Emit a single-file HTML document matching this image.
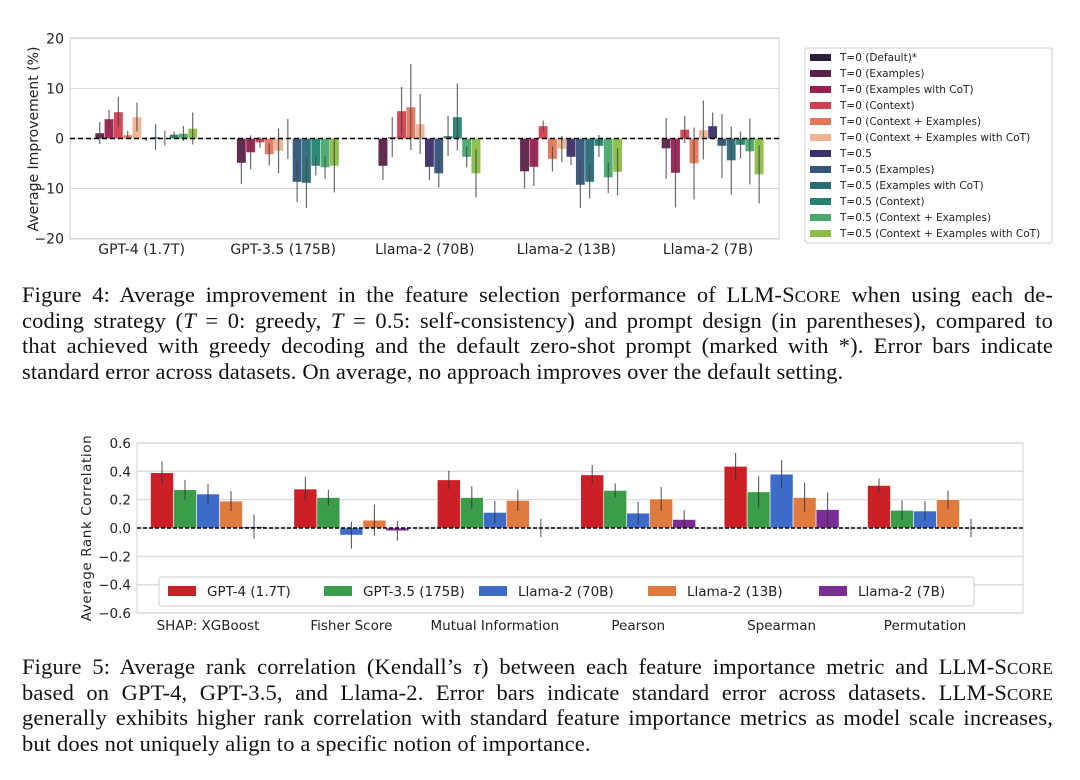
<!DOCTYPE html>
<html><head><meta charset="utf-8"><style>
body{margin:0;background:#fff;width:1080px;height:780px;overflow:hidden;position:relative;font-family:"DejaVu Sans","Liberation Sans",sans-serif}
svg{position:absolute;left:0;top:0}
.cap{position:absolute;left:22px;width:1031px;font-family:"Liberation Serif",serif;font-size:22.5px;letter-spacing:0.15px;color:#111}
.cap div{height:25.5px;line-height:25.5px;white-space:nowrap;text-align:justify;text-align-last:justify}
.cap div.last{text-align-last:left}
</style></head><body>
<svg id="chart" width="1080" height="780"></svg>
<div class="cap" style="top:282px">
<div>Figure 4: Average improvement in the feature selection performance of LLM-S<span style="font-size:17px">CORE</span> when using each de-</div>
<div>coding strategy (<i>T</i> = 0: greedy, <i>T</i> = 0.5: self-consistency) and prompt design (in parentheses), compared to</div>
<div>that achieved with greedy decoding and the default zero-shot prompt (marked with *). Error bars indicate</div>
<div class="last">standard error across datasets. On average, no approach improves over the default setting.</div>
</div>
<div class="cap" style="top:654px">
<div>Figure 5: Average rank correlation (Kendall’s <i>τ</i>) between each feature importance metric and LLM-S<span style="font-size:17px">CORE</span></div>
<div>based on GPT-4, GPT-3.5, and Llama-2. Error bars indicate standard error across datasets. LLM-S<span style="font-size:17px">CORE</span></div>
<div>generally exhibits higher rank correlation with standard feature importance metrics as model scale increases,</div>
<div class="last">but does not uniquely align to a specific notion of importance.</div>
</div>
<script>
// ---- Chart 1 data ----
const models1 = ["GPT-4 (1.7T)","GPT-3.5 (175B)","Llama-2 (70B)","Llama-2 (13B)","Llama-2 (7B)"];
const series1 = ["T=0 (Default)*","T=0 (Examples)","T=0 (Examples with CoT)","T=0 (Context)","T=0 (Context + Examples)","T=0 (Context + Examples with CoT)","T=0.5","T=0.5 (Examples)","T=0.5 (Examples with CoT)","T=0.5 (Context)","T=0.5 (Context + Examples)","T=0.5 (Context + Examples with CoT)"];
const colors1 = ["#2d1e3e","#5c1f48","#9b1e52","#d1404f","#e57659","#efb393","#3d2f6b","#33557a","#2a6c78","#23836f","#48a96c","#8bbd45"];
const vals_gpt4 = [0,1.1,3.9,5.3,0.7,4.3,-0.1,0.3,0.1,0.8,1.0,2.0];
const err_gpt4 = [0,2.2,1.8,3,0.8,2.9,0.4,2.6,1.5,0.6,1.5,3.2];
const vals_gpt35 = [0,-4.9,-2.8,-0.8,-3.2,-2.5,-0.1,-8.7,-8.9,-5.5,-5.8,-5.5];
const err_gpt35 = [0,4.2,3.4,1.1,2.2,4.5,4,4,5,1.9,2.3,5.3];
const vals_70b = [0,-5.5,0.3,5.5,6.3,2.9,-5.7,-7.0,0.5,4.3,-3.7,-7.0];
const err_70b = [0,2.8,4,4.8,8.6,6,2.6,2.8,4,6.7,2.1,4.8];
const vals_13b = [0,-6.6,-5.7,2.5,-4.1,-2.1,-3.7,-9.3,-8.7,-1.5,-7.8,-6.7];
const err_13b = [0,3.4,3.8,1.1,2.5,2.6,1.6,4.6,3.3,2.2,3.1,4.7];
const vals_7b = [0,-2.0,-6.9,1.8,-5.0,1.7,2.5,-1.5,-4.4,-1.3,-2.6,-7.2];
const err_7b = [0,6.1,6.9,2.7,7.2,5.9,2.7,6.4,6.8,2.7,6.6,5.8];
const ticks1 = [20,10,0,-10,-20];
const vals1 = [vals_gpt4,vals_gpt35,vals_70b,vals_13b,vals_7b];
const errs1 = [err_gpt4,err_gpt35,err_70b,err_13b,err_7b];
// ---- Chart 2 data ----
const metrics2 = ["SHAP: XGBoost","Fisher Score","Mutual Information","Pearson","Spearman","Permutation"];
const models2 = ["GPT-4 (1.7T)","GPT-3.5 (175B)","Llama-2 (70B)","Llama-2 (13B)","Llama-2 (7B)"];
const colors2 = ["#cc1f26","#3b9c4a","#3d6cc8","#e07b3f","#7b2d96"];
const v_gpt4 = [0.39,0.275,0.34,0.375,0.435,0.3];
const e_gpt4 = [0.08,0.085,0.065,0.07,0.095,0.05];
const v_gpt35 = [0.27,0.215,0.215,0.265,0.255,0.125];
const e_gpt35 = [0.07,0.055,0.08,0.05,0.11,0.07];
const v_70b = [0.24,-0.05,0.11,0.105,0.38,0.12];
const e_70b = [0.07,0.095,0.08,0.08,0.1,0.07];
const v_13b = [0.19,0.055,0.195,0.205,0.215,0.2];
const e_13b = [0.07,0.11,0.075,0.085,0.105,0.065];
const v_7b = [0.01,-0.02,0,0.06,0.13,0];
const e_7b = [0.085,0.07,0.065,0.065,0.12,0.065];
const ticks2 = [0.6,0.4,0.2,0.0,-0.2,-0.4,-0.6];
const vals2 = [v_gpt4,v_gpt35,v_70b,v_13b,v_7b];
const errs2 = [e_gpt4,e_gpt35,e_70b,e_13b,e_7b];

const NS="http://www.w3.org/2000/svg";
const svg=document.getElementById('chart');
function mk(tag,attrs,parent,text){const e=document.createElementNS(NS,tag);for(const k in attrs)e.setAttribute(k,attrs[k]);if(text!==undefined)e.textContent=text;(parent||svg).appendChild(e);return e;}
function fmt(t){return t<0?"\u2212"+Math.abs(t):String(t);}

// Chart 1
const X1={l:70,r:779,t:38,b:239};
const y1=v=>138.5-v*5;
const gx1=i=>141.6+i*141.6;
const bw1=9.3;
const g1=mk('g',{});


ticks1.forEach(t=>{
  const l=mk('line',{x1:X1.l,x2:X1.r,y1:y1(t),y2:y1(t),stroke:'#dcdcdc','stroke-width':1},g1);
  
  
  const tx=mk('text',{x:X1.l-6,y:y1(t)+5,'text-anchor':'end','font-size':14,fill:'#222'},g1,fmt(t));
  
  
});
const fr1=mk('rect',{x:X1.l,y:X1.t,width:X1.r-X1.l,height:X1.b-X1.t,fill:'none',stroke:'#d0d0d0'},g1);


const yt1=mk('text',{transform:'translate(38,139) rotate(-90)','text-anchor':'middle','font-size':14,fill:'#222'},g1,'Average Improvement (%)');


models1.forEach((m,i)=>{
  const lab=mk('text',{x:gx1(i),y:254,'text-anchor':'middle','font-size':14,fill:'#222'},g1,m);
  
  
  vals1[i].forEach((v,j)=>{
    const cx=gx1(i)+(j-5.5)*bw1;
    const top=Math.min(y1(v),y1(0)),h=Math.abs(y1(v)-y1(0));
    const r=mk('rect',{x:cx-bw1/2,y:top,width:bw1,height:h,fill:colors1[j],stroke:'#fff','stroke-width':0.4,opacity:0.95},g1);
    
    
    const e=errs1[i][j];
    if(e>0){
      const el=mk('line',{x1:cx,x2:cx,y1:y1(v+e),y2:y1(v-e),stroke:'#444','stroke-width':1.2,opacity:0.8},g1);
      
      
    }
  });
});
const z1=mk('line',{x1:X1.l,x2:X1.r,y1:y1(0),y2:y1(0),stroke:'#000','stroke-width':1.6,'stroke-dasharray':'5,3'},g1);


// legend 1
const lg1=mk('g',{},g1);


mk('rect',{x:805,y:48,width:247,height:195,fill:'#fff',stroke:'#ccc',rx:2},lg1);
series1.forEach((s,j)=>{
  const yy=57+j*16;
  const sw=mk('rect',{x:810,y:yy-3,width:21,height:7,fill:colors1[j]},lg1);
  
  
  const t=mk('text',{x:840,y:yy+4,'font-size':10.5,fill:'#222'},lg1,s);
  
  
});

// Chart 2
const X2={l:137,r:1023,t:443,b:613};
const y2=v=>528-v*141.7;
const gx2=i=>208+i*143.4;
const bw2=23;
const g2=mk('g',{});


ticks2.forEach(t=>{
  const l=mk('line',{x1:X2.l,x2:X2.r,y1:y2(t),y2:y2(t),stroke:'#dcdcdc','stroke-width':1.3},g2);
  
  
  const tx=mk('text',{x:X2.l-6,y:y2(t)+5,'text-anchor':'end','font-size':13.5,fill:'#222'},g2,(t<0?"\u2212":"")+Math.abs(t).toFixed(1));
  
  
});
const fr2=mk('rect',{x:X2.l,y:X2.t,width:X2.r-X2.l,height:X2.b-X2.t,fill:'none',stroke:'#d0d0d0'},g2);


const yt2=mk('text',{transform:'translate(91,528) rotate(-90)','text-anchor':'middle','font-size':13.5,fill:'#222','letter-spacing':0.6},g2,'Average Rank Correlation');


metrics2.forEach((m,i)=>{
  const lab=mk('text',{x:gx2(i),y:630,'text-anchor':'middle','font-size':13.5,fill:'#222'},g2,m);
  
  
  vals2.forEach((arr,j)=>{
    const v=arr[i];
    const cx=gx2(i)+(j-2)*bw2;
    const top=Math.min(y2(v),y2(0)),h=Math.abs(y2(v)-y2(0));
    const r=mk('rect',{x:cx-bw2/2,y:top,width:bw2,height:h,fill:colors2[j],stroke:'#fff','stroke-width':0.6},g2);
    
    
    const e=errs2[j][i];
    const el=mk('line',{x1:cx,x2:cx,y1:y2(v+e),y2:y2(v-e),stroke:'#333','stroke-width':1.1,opacity:0.8},g2);
    
    
  });
});
const z2=mk('line',{x1:X2.l,x2:X2.r,y1:y2(0),y2:y2(0),stroke:'#000','stroke-width':1.4,'stroke-dasharray':'4,2'},g2);


const lg2=mk('g',{},g2);


mk('rect',{x:159,y:577,width:815,height:29,fill:'#fff',stroke:'#ccc',rx:2},lg2);
const lx=[168,324,479,648,819];
models2.forEach((m,j)=>{
  const sw=mk('rect',{x:lx[j],y:586,width:28,height:10,fill:colors2[j]},lg2);
  
  
  const t=mk('text',{x:lx[j]+39,y:596,'font-size':13.5,fill:'#222'},lg2,m);
  
  
});
</script>
</body></html>
